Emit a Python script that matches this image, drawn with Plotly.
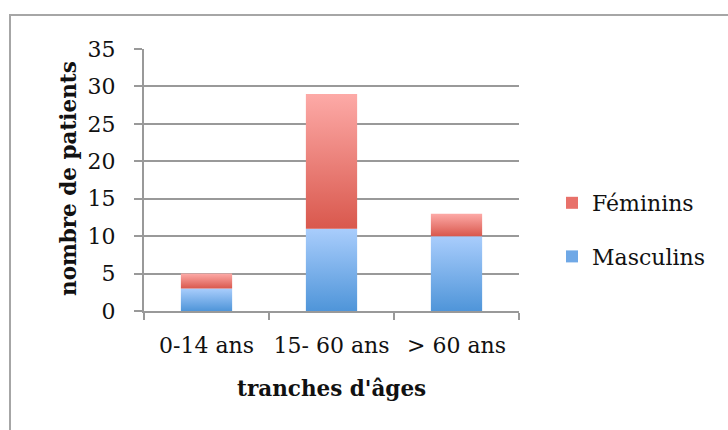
import plotly.graph_objects as go

# Age groups and patient counts by sex
categories = ["0-14 ans", "15- 60 ans", "> 60 ans"]
masculins = [3, 11, 10]
feminins = [2, 18, 3]

y_ticks = [0, 5, 10, 15, 20, 25, 30, 35]

FONT = "DejaVu Serif"
BLUE_DARK, BLUE_LIGHT = "#4f95d9", "#a9cdfc"
RED_DARK, RED_LIGHT = "#d9584d", "#fdaaa7"

# plot-area geometry in pixels (used only to convert to paper coordinates)
W, H = 728, 430
L, R, T, B = 144, 519, 49, 311


def px_x(p):
    return (p - L) / (R - L)


def px_y(p):
    return (B - p) / (B - T)


half_w = 0.205
xs = list(range(len(categories)))

fig = go.Figure()


def add_segment(i, base, height, dark, light):
    x0, x1 = xs[i] - half_w, xs[i] + half_w
    fig.add_trace(go.Scatter(
        x=[x0, x1, x1, x0, x0],
        y=[base, base, base + height, base + height, base],
        mode="lines", fill="toself",
        line=dict(width=0, color=dark),
        fillgradient=dict(type="vertical", colorscale=[[0, dark], [1, light]]),
        showlegend=False, hoverinfo="skip",
    ))


for i in range(len(categories)):
    add_segment(i, 0, masculins[i], BLUE_DARK, BLUE_LIGHT)
    add_segment(i, masculins[i], feminins[i], RED_DARK, RED_LIGHT)

# legend entries
fig.add_trace(go.Bar(x=[None], y=[None], name="Féminins", legendgroup="f",
                     marker=dict(color="#e8716a", line=dict(width=0))))
fig.add_trace(go.Bar(x=[None], y=[None], name="Masculins", legendgroup="m",
                     marker=dict(color="#6fa8e6", line=dict(width=0))))

fig.update_layout(
    width=W, height=H,
    margin=dict(l=L, r=W - R, t=T, b=H - B),
    paper_bgcolor="white", plot_bgcolor="white",
    font=dict(family=FONT, size=22, color="#111"),
    showlegend=True,
    legend=dict(x=px_x(552), y=px_y(182), xanchor="left", yanchor="top",
                traceorder="grouped", tracegroupgap=22,
                font=dict(family=FONT, size=22), bgcolor="rgba(0,0,0,0)"),
    xaxis=dict(range=[-0.5, 2.5], tickmode="array", tickvals=xs, ticktext=categories,
               ticks="", showgrid=False, zeroline=False,
               showline=True, linecolor="#999", linewidth=2,
               ticklabelstandoff=14,
               minor=dict(tickmode="array", tickvals=[-0.5, 0.5, 1.5, 2.5],
                          ticks="outside", ticklen=7, tickcolor="#999", tickwidth=2,
                          showgrid=False),
               fixedrange=True),
    yaxis=dict(range=[0, 35], tickmode="array", tickvals=y_ticks,
               ticks="outside", ticklen=8, tickcolor="#999", tickwidth=2,
               showgrid=True, gridcolor="#999", gridwidth=2,
               zeroline=False, showline=True, linecolor="#999", linewidth=2,
               ticklabelstandoff=14, fixedrange=True),
    annotations=[
        dict(text="<b>tranches d'âges</b>", xref="paper", yref="paper",
             x=px_x(331), y=px_y(388), xanchor="center", yanchor="middle",
             showarrow=False, font=dict(family=FONT, size=21.5, color="#111")),
        dict(text="<b>nombre de patients</b>", xref="paper", yref="paper",
             x=px_x(68), y=px_y(179), xanchor="center", yanchor="middle",
             textangle=-90, showarrow=False,
             font=dict(family=FONT, size=21.5, color="#111")),
    ],
    shapes=[
        dict(type="rect", xref="paper", yref="paper",
             x0=px_x(10), x1=px_x(745), y0=px_y(15), y1=px_y(445),
             line=dict(color="#a6a6a6", width=2), fillcolor="rgba(0,0,0,0)",
             layer="below"),
    ],
)

fig.write_html("out.html")
